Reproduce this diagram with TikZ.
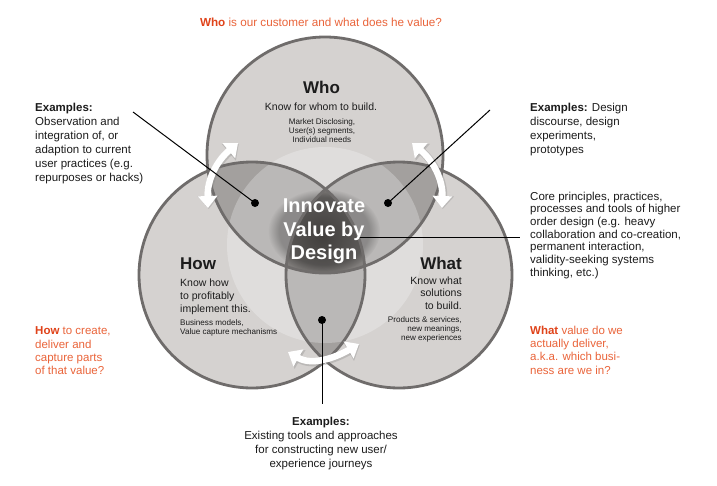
\documentclass[tikz,border=0pt]{standalone}
\usepackage{fontspec}
\setmainfont{Liberation Sans}
\usetikzlibrary{arrows.meta,fadings}
\definecolor{circfill}{HTML}{D5D2D0}
\definecolor{lensfill}{HTML}{A3A09E}
\definecolor{circline}{HTML}{6F6C6B}
\definecolor{orangeA}{HTML}{E0431A}
\definecolor{orangeB}{HTML}{EA643A}
\definecolor{txt}{HTML}{1C1C1C}
\definecolor{coreDark}{HTML}{575452}
\definecolor{coreLight}{HTML}{8E8B89}
\begin{document}
\begin{tikzpicture}[x=1pt,y=1pt,
  body/.style={txt, inner sep=0pt, font=\fontsize{11.5}{14}\selectfont},
  oq/.style={orangeB, inner sep=0pt, font=\fontsize{11.5}{13.4}\selectfont},
  title/.style={txt, inner sep=0pt, font=\fontsize{17}{20}\selectfont\bfseries},
  sub/.style={txt, inner sep=0pt, font=\fontsize{10.5}{13.2}\selectfont},
  small/.style={txt, inner sep=0pt, font=\fontsize{8.1}{9.3}\selectfont},
  dot/.style={circle, fill=black, inner sep=0pt, minimum size=8pt},
  conn/.style={black, line width=1pt},
  warrow/.style={white, line width=6.5pt, {Triangle[width=19pt,length=12pt]}-{Triangle[width=19pt,length=12pt]}},
  warrowshadow/.style={black!50, opacity=0.3, line width=8pt, {Triangle[width=21pt,length=13pt]}-{Triangle[width=21pt,length=13pt]}}
]
\useasboundingbox (0,0) rectangle (717,-485);
\fill[white] (0,0) rectangle (717,-485);

\def\whopath{(325,-155) circle (118)}
\def\howpath{(252,-275) circle (113)}
\def\whatpath{(399,-275) circle (113)}

% base discs
\fill[circfill] \whopath;
\fill[circfill] \howpath;
\fill[circfill] \whatpath;
% pairwise lenses
\begin{scope}
  \clip \whopath;
  \fill[lensfill] \howpath;
  \fill[lensfill] \whatpath;
\end{scope}
\begin{scope}
  \clip \howpath;
  \fill[lensfill] \whatpath;
\end{scope}
% central glow
\fill[white, opacity=0.26] (325,-245) circle (98);
% core (triple intersection)
\begin{scope}
  \clip \whopath;
  \clip \howpath;
  \clip \whatpath;
  \shade[inner color=coreDark, outer color=coreLight] (322,-236) circle (62);
\end{scope}
% dark halo behind the central title
\fill[black, fill opacity=0.25, path fading=circle with fuzzy edge 20 percent] (324,-231) ellipse (56 and 42);
% outlines
\draw[circline, line width=2.8pt] \whopath;
\draw[circline, line width=2.8pt] \howpath;
\draw[circline, line width=2.8pt] \whatpath;

% curved white arrows
\coordinate (aLa) at (238,-143);
\coordinate (aLb) at (208,-208);
\coordinate (aRa) at (412,-143);
\coordinate (aRb) at (442,-208);
\coordinate (aBa) at (288,-352);
\coordinate (aBb) at (359,-344);
\draw[warrowshadow, transform canvas={shift={(0.8pt,-1pt)}}] (aLa) to[out=220,in=92] (aLb);
\draw[warrowshadow, transform canvas={shift={(0.8pt,-1pt)}}] (aRa) to[out=-40,in=88] (aRb);
\draw[warrowshadow, transform canvas={shift={(0.8pt,-1pt)}}] (aBa) to[out=-30,in=-150] (aBb);
\draw[warrow] (aLa) to[out=220,in=92] (aLb);
\draw[warrow] (aRa) to[out=-40,in=88] (aRb);
\draw[warrow] (aBa) to[out=-30,in=-150] (aBb);

% dots and connectors
\node[dot] (dL) at (255,-203) {};
\node[dot] (dR) at (388,-203) {};
\node[dot] (dB) at (322,-320) {};
\coordinate (eL) at (133,-112);
\coordinate (eR) at (490,-110);
\coordinate (eB) at (322,-404);
\coordinate (hS) at (358,-237);
\coordinate (hE) at (520,-237);
\draw[conn] (dL.center) -- (eL);
\draw[conn] (dR.center) -- (eR);
\draw[conn] (dB.center) -- (eB);
\draw[conn] (hS) -- (hE);

% top question
\node[orangeB, inner sep=0pt, font=\fontsize{11.7}{14}\selectfont, anchor=base] (topq) at (321,-26)
  {\textcolor{orangeA}{\bfseries Who} is our customer and what does he value?};

% left examples
\node[body, anchor=north west, align=left] (exL) at (35,-103)
  {\textbf{Examples:}\\Observation and\\integration of, or\\adaption to current\\user practices (e.g.\\repurposes or hacks)};
% right examples
\node[body, anchor=north west, align=left] (exR) at (530,-103)
  {\textbf{Examples:} Design\\discourse, design\\experiments,\\prototypes};
\node[body, anchor=north west, align=left, font=\fontsize{11.5}{12.7}\selectfont] (core) at (530,-191.5)
  {Core principles, practices,\\processes and tools of higher\\order design (e.g. heavy\\collaboration and co-creation,\\permanent interaction,\\validity-seeking systems\\thinking, etc.)};

% orange side questions
\node[oq, anchor=north west, align=left] (howq) at (35,-326.6)
  {\textcolor{orangeA}{\bfseries How} to create,\\deliver and\\capture parts\\of that value?};
\node[oq, anchor=north west, align=left] (whatq) at (530,-325.6)
  {\textcolor{orangeA}{\bfseries What} value do we\\actually deliver,\\a.k.a. which busi-\\ness are we in?};

% Who circle texts
\node[title, anchor=base] (whoT) at (321.5,-93) {Who};
\node[sub, anchor=base] (whoS) at (321,-110.7) {Know for whom to build.};
\node[small, anchor=north, align=center] (whoM) at (322,-118.3)
  {Market Disclosing,\\User(s) segments,\\Individual needs};

% How circle texts
\node[title, anchor=base west] (howT) at (180,-269) {How};
\node[sub, anchor=north west, align=left] (howS) at (180,-278.2)
  {Know how\\to profitably\\implement this.};
\node[small, anchor=north west, align=left] (howM) at (180,-319.5)
  {Business models,\\Value capture mechanisms};

% What circle texts
\node[title, anchor=base east] (whatT) at (462,-269) {What};
\node[sub, anchor=north east, align=right, font=\fontsize{10.5}{12.5}\selectfont] (whatS) at (462,-276.2)
  {Know what\\solutions\\to build.};
\node[small, anchor=north east, align=right, font=\fontsize{8.1}{9}\selectfont] (whatM) at (462,-316.5)
  {Products \& services,\\new meanings,\\new experiences};

% central title
\node[white, inner sep=0pt, anchor=north, align=center, font=\fontsize{20}{23.5}\selectfont\bfseries] (center) at (324,-199)
  {Innovate\\Value by\\Design};

% bottom examples
\node[body, anchor=north, align=center] (exB) at (321,-416.6)
  {\textbf{Examples:}\\Existing tools and approaches\\for constructing new user/\\experience journeys};
\end{tikzpicture}
\end{document}
